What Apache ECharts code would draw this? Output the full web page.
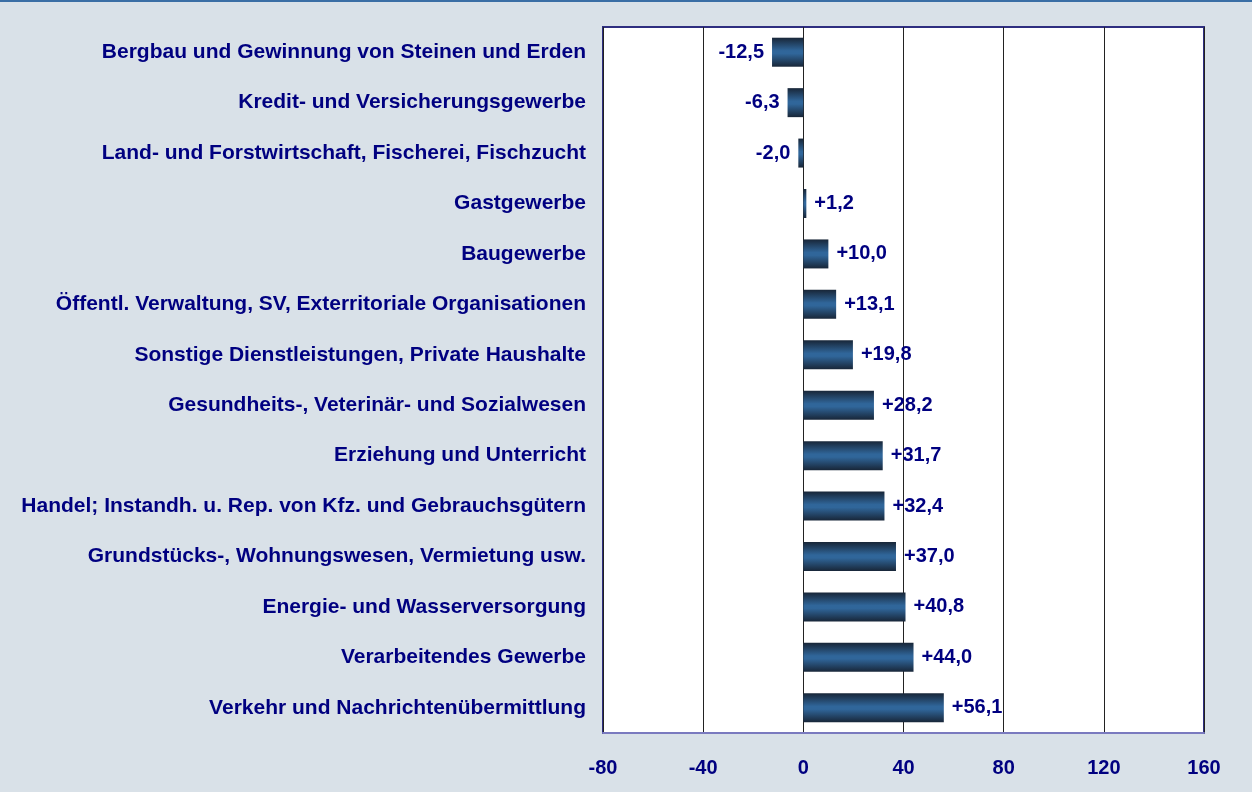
<!DOCTYPE html>
<html>
<head>
<meta charset="utf-8">
<script src="https://cdn.jsdelivr.net/npm/echarts@6/dist/echarts.min.js"></script>
<style>
  html, body { margin: 0; padding: 0; background: #d9e1e8; }
  #chart { width: 1252px; height: 792px; }
</style>
</head>
<body>
<div id="chart"></div>
<script>
// Wirtschaftsbereiche, von oben nach unten wie im Bild
const categories = [
  'Bergbau und Gewinnung von Steinen und Erden',
  'Kredit- und Versicherungsgewerbe',
  'Land- und Forstwirtschaft, Fischerei, Fischzucht',
  'Gastgewerbe',
  'Baugewerbe',
  'Öffentl. Verwaltung, SV, Exterritoriale Organisationen',
  'Sonstige Dienstleistungen, Private Haushalte',
  'Gesundheits-, Veterinär- und Sozialwesen',
  'Erziehung und Unterricht',
  'Handel; Instandh. u. Rep. von Kfz. und Gebrauchsgütern',
  'Grundstücks-, Wohnungswesen, Vermietung usw.',
  'Energie- und Wasserversorgung',
  'Verarbeitendes Gewerbe',
  'Verkehr und Nachrichtenübermittlung'
]
const values = [-12.5, -6.3, -2.0, 1.2, 10.0, 13.1, 19.8, 28.2, 31.7, 32.4, 37.0, 40.8, 44.0, 56.1]

const navy = '#000080'
const font = 'Liberation Sans, Arial, sans-serif'

const barGradient = new echarts.graphic.LinearGradient(0, 0, 0, 1, [
  { offset: 0, color: '#182638' },
  { offset: 0.45, color: '#30669a' },
  { offset: 0.55, color: '#30669a' },
  { offset: 1, color: '#182638' }
])

const fmt = v => (v > 0 ? '+' : '') + v.toFixed(1).replace('.', ',')

const chart = echarts.init(document.getElementById('chart'))
const option = {
  backgroundColor: '#d9e1e8',
  animation: false,
  graphic: [
    {
      type: 'line',
      shape: { x1: 0, y1: 1, x2: 1252, y2: 1 },
      style: { stroke: '#3a6ea5', lineWidth: 2 }
    }
  ],
  grid: {
    left: 603,
    right: 48,
    top: 27,
    bottom: 59,
    show: true,
    backgroundColor: '#ffffff',
    borderColor: '#2e2e80',
    borderWidth: 2
  },
  xAxis: {
    type: 'value',
    min: -80,
    max: 160,
    interval: 40,
    axisLine: { show: true, lineStyle: { color: '#7a7abf', width: 2 } },
    axisTick: { show: false },
    axisLabel: {
      color: navy,
      fontWeight: 'bold',
      fontSize: 20,
      fontFamily: font,
      margin: 25
    },
    splitLine: { show: true, lineStyle: { color: '#222222', width: 1 } }
  },
  yAxis: {
    type: 'category',
    inverse: true,
    data: categories,
    axisLine: { show: false },
    axisTick: { show: false },
    axisLabel: {
      color: navy,
      fontWeight: 'bold',
      fontSize: 21,
      fontFamily: font,
      margin: 17
    },
    splitLine: { show: false }
  },
  series: [
    {
      type: 'bar',
      barWidth: 29,
      itemStyle: { color: barGradient },
      label: {
        show: true,
        color: navy,
        fontWeight: 'bold',
        fontSize: 20,
        fontFamily: font,
        distance: 8,
        formatter: p => fmt(p.value)
      },
      data: values.map(v => ({
        value: v,
        label: { position: v < 0 ? 'left' : 'right' }
      }))
    }
  ]
}
chart.setOption(option)
</script>
</body>
</html>
